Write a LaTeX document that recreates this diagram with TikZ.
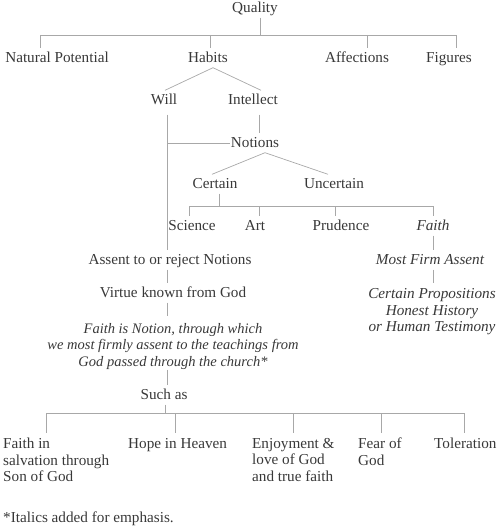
\documentclass[tikz,border=0pt]{standalone}
\usepackage{fontspec}
\setmainfont{Liberation Serif}
\definecolor{txt}{HTML}{383838}
\definecolor{ln}{HTML}{A8A8A8}
\begin{document}
\begin{tikzpicture}[x=1pt,y=-1pt,
  t/.style={inner xsep=1pt, inner ysep=2pt, text height=12pt, text depth=3pt, text=txt, font=\fontsize{15.2}{16.5}\selectfont},
  tm/.style={inner sep=0pt, text=txt, font=\fontsize{15.2}{16.5}\selectfont},
  it/.style={font=\fontsize{15.2}{16.5}\selectfont\itshape},
  link/.style={draw=ln, line width=0.7pt}]
\useasboundingbox (0,0) rectangle (500,532);
% nodes
\node[t] (quality) at (255,8) {Quality};
\node[t] (natpot) at (57,58) {Natural Potential};
\node[t] (habits) at (208,58) {Habits};
\node[t] (affections) at (357,58) {Affections};
\node[t] (figures) at (449,58) {Figures};
\node[t] (will) at (164,100) {Will};
\node[t] (intellect) at (253,100) {Intellect};
\node[t] (notions) at (255,143) {Notions};
\node[t] (certain) at (215,184) {Certain};
\node[t] (uncertain) at (334,184) {Uncertain};
\node[t] (science) at (192,226) {Science};
\node[t] (art) at (255,226) {Art};
\node[t] (prudence) at (341,226) {Prudence};
\node[t,it] (faith) at (433,226) {Faith};
\node[t] (assent) at (170,260) {Assent to or reject Notions};
\node[t,it] (mostfirm) at (430,260) {Most Firm Assent};
\node[tm,it,align=center,anchor=north] (certprop) at (432,288) {Certain Propositions\\[0.5pt]Honest History\\or Human Testimony};
\node[t] (virtue) at (173,293) {Virtue known from God};
\node[tm,align=center,anchor=north,font=\fontsize{14.5}{16.5}\selectfont\itshape] (faithis) at (173,323) {Faith is Notion, through which\\we most firmly assent to the teachings from\\God passed through the church*};
\node[t] (suchas) at (164,395) {Such as};
\node[tm,align=left,anchor=north west] (leaf1) at (3,438) {Faith in\\salvation through\\Son of God};
\node[tm,anchor=north west] (leaf2) at (128,438) {Hope in Heaven};
\node[tm,align=left,anchor=north west] (leaf3) at (252,438) {Enjoyment \&\\love of God\\and true faith};
\node[tm,align=left,anchor=north west] (leaf4) at (358,438) {Fear of\\God};
\node[tm,anchor=north west] (leaf5) at (434,438) {Toleration};
\node[tm,anchor=north west] (note) at (3,512) {*Italics added for emphasis.};
% junction coordinates
\coordinate (qb) at (260,35);
\coordinate (b1) at (40,35);
\coordinate (b2) at (210,35);
\coordinate (b3) at (367,35);
\coordinate (b4) at (456,35);
\coordinate (wl) at ([xshift=3pt]will.south);
\coordinate (cb) at (219,206);
\coordinate (c1) at (189,206);
\coordinate (c2) at (259,206);
\coordinate (c3) at (335,206);
\coordinate (c4) at (433,206);
\coordinate (sb) at (165,413);
\coordinate (s1) at (46,413);
\coordinate (s2) at (175,413);
\coordinate (s3) at (293,413);
\coordinate (s4) at (381,413);
\coordinate (s5) at (464,413);
% connectors
\draw[link] (quality.south -| qb) -- (qb);
\draw[link] (b1) -- (b4);
\draw[link] (b1) -- (b1 |- natpot.north);
\draw[link] (b2) -- (b2 |- habits.north);
\draw[link] (b3) -- (b3 |- affections.north);
\draw[link] (b4) -- (b4 |- figures.north);
\draw[link] ([xshift=5pt]habits.south) -- ([xshift=1pt]will.north);
\draw[link] ([xshift=5pt]habits.south) -- ([xshift=8pt]intellect.north);
\draw[link] ([yshift=-5pt]wl) -- (wl |- assent.north);
\draw[link] ([xshift=6pt,yshift=-5pt]intellect.south) -- ([xshift=6pt]intellect.south |- notions.north);
\draw[link] (notions.west) -- (notions.west -| wl);
\draw[link] ([xshift=10pt]notions.south) -- ([xshift=-3pt]certain.north);
\draw[link] ([xshift=10pt]notions.south) -- ([xshift=-6pt]uncertain.north);
\draw[link] (certain.south -| cb) -- (cb);
\draw[link] (c1) -- (c4);
\draw[link] (c1) -- (c1 |- science.north);
\draw[link] (c2) -- (c2 |- art.north);
\draw[link] (c3) -- (c3 |- prudence.north);
\draw[link] (c4) -- (c4 |- faith.north);
\draw[link] (faith.south) -- (faith.south |- mostfirm.north);
\draw[link] (mostfirm.south -| faith.south) -- ([yshift=5pt]certprop.north -| faith.south);
\draw[link] (assent.south -| wl) -- (wl |- virtue.north);
\draw[link] (virtue.south -| wl) -- ([yshift=7pt]faithis.north -| wl);
\draw[link] (faithis.south -| wl) -- (wl |- suchas.north);
\draw[link] (suchas.south -| sb) -- (sb);
\draw[link] (s1) -- (s5);
\draw[link] (s1) -- ([yshift=5pt]leaf1.north -| s1);
\draw[link] (s2) -- ([yshift=5pt]leaf2.north -| s2);
\draw[link] (s3) -- ([yshift=5pt]leaf3.north -| s3);
\draw[link] (s4) -- ([yshift=5pt]leaf4.north -| s4);
\draw[link] (s5) -- ([yshift=5pt]leaf5.north -| s5);
\end{tikzpicture}
\end{document}
